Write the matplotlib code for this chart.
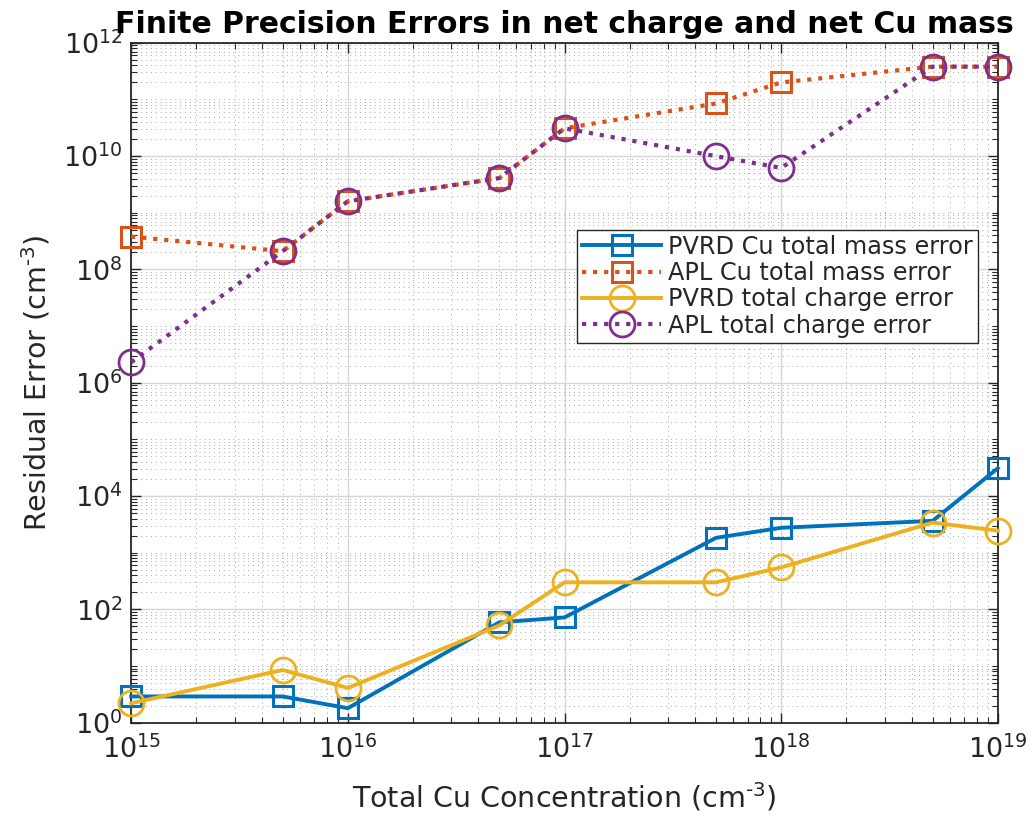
import numpy as np
import matplotlib.pyplot as plt
from matplotlib.ticker import LogLocator, NullFormatter

# Total Cu concentration (cm^-3)
conc = [1e15, 5e15, 1e16, 5e16, 1e17, 5e17, 1e18, 5e18, 1e19]

# residual errors (cm^-3)
pvrd_mass = [2.9, 2.9, 1.8, 59, 72, 1830, 2750, 3650, 31000]
apl_mass = [3.8e8, 2.1e8, 1.6e9, 4.1e9, 3.1e10, 8.5e10, 2.0e11, 3.8e11, 3.8e11]
pvrd_charge = [2.2, 8.5, 4.1, 52, 300, 300, 550, 3400, 2450]
apl_charge = [2.3e6, 2.1e8, 1.6e9, 4.1e9, 3.1e10, 1.0e10, 6.2e9, 3.8e11, 3.8e11]

labels = ['PVRD Cu total mass error', 'APL Cu total mass error',
          'PVRD total charge error', 'APL total charge error']

dark = '#262626'

fig = plt.figure(figsize=(10.33, 8.24), dpi=100)
ax = fig.add_axes([0.127, 0.123, 0.839, 0.825])

ax.plot(conc, pvrd_mass, '-', color='#0072BD', lw=2.8, marker='s', ms=14,
        mfc='none', mew=2.2, label=labels[0], clip_on=False, zorder=3)
ax.plot(conc, apl_mass, ':', color='#D95319', lw=3.0, marker='s', ms=14,
        mfc='none', mew=2.2, label=labels[1], clip_on=False, zorder=3)
ax.plot(conc, pvrd_charge, '-', color='#EDB120', lw=2.8, marker='o', ms=18,
        mfc='none', mew=2.0, label=labels[2], clip_on=False, zorder=3)
ax.plot(conc, apl_charge, ':', color='#7E2F8E', lw=3.0, marker='o', ms=18,
        mfc='none', mew=2.0, label=labels[3], clip_on=False, zorder=3)

ax.set_xscale('log')
ax.set_yscale('log')
ax.set_xlim(1e15, 1e19)
ax.set_ylim(1e0, 1e12)
ax.set_xticks([10.0**k for k in range(15, 20)])
ax.set_yticks([10.0**k for k in range(0, 13, 2)])
ax.xaxis.set_minor_locator(LogLocator(base=10, subs=np.arange(1, 10), numticks=100))
ax.yaxis.set_minor_locator(LogLocator(base=10, subs=np.arange(1, 10), numticks=100))
ax.xaxis.set_minor_formatter(NullFormatter())
ax.yaxis.set_minor_formatter(NullFormatter())

ax.grid(True, which='major', color='#d6d6d6', lw=1.0, ls='-')
ax.grid(True, which='minor', color='#a8a8a8', lw=0.7, ls=(0, (1, 4)))
ax.set_axisbelow(True)

ax.tick_params(which='both', direction='in', top=True, right=True, colors=dark,
               labelsize=19.5)
ax.tick_params(which='major', length=7, width=1.0)
ax.tick_params(which='minor', length=4, width=0.8)
ax.tick_params(axis='x', pad=9)
ax.tick_params(axis='y', pad=6)
for s in ax.spines.values():
    s.set_color(dark)
    s.set_linewidth(1.3)

ax.set_xlabel(r'Total Cu Concentration (cm$^{\text{-}3}$)', fontsize=20.5, color=dark, labelpad=12)
ax.set_ylabel(r'Residual Error (cm$^{\text{-}3}$)', fontsize=20.5, color=dark, labelpad=8)
ax.set_title('Finite Precision Errors in net charge and net Cu mass',
             fontsize=21.5, fontweight='bold', pad=7)

leg = ax.legend(loc='upper right', bbox_to_anchor=(0.977, 0.725), fontsize=17.3,
                frameon=True, fancybox=False, edgecolor=dark, framealpha=1,
                handlelength=3.3, borderpad=0.2, labelspacing=0.1,
                handletextpad=0.3, borderaxespad=0)
leg.get_frame().set_linewidth(1.0)
for t in leg.get_texts():
    t.set_color(dark)

fig.savefig('out.png', dpi=100)
